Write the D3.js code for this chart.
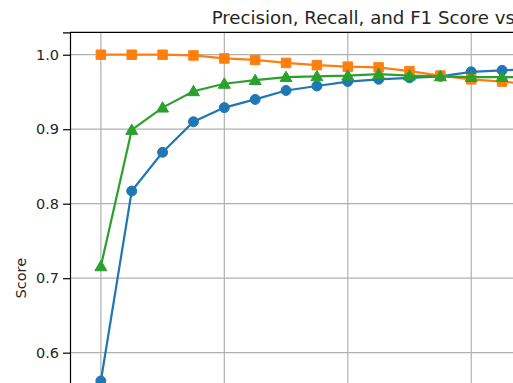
<!DOCTYPE html>
<html>
<head>
<meta charset="utf-8">
<script src="https://cdn.jsdelivr.net/npm/d3@7"></script>
<style>
  body { margin: 0; background: #fff; }
  text { font-family: "DejaVu Sans", sans-serif; fill: #262626; }
</style>
</head>
<body>
<svg id="chart"></svg>
<script>
// thresholds (only the visible part of the chart plus one point to the right edge)
const thresholds = [0.0, 0.05, 0.1, 0.15, 0.2, 0.25, 0.3, 0.35, 0.4, 0.45, 0.5, 0.55, 0.6, 0.65, 0.7];
const blueScores = [0.562, 0.817, 0.869, 0.910, 0.929, 0.940, 0.952, 0.958, 0.964, 0.967, 0.969, 0.971, 0.977, 0.979, 0.981];
const orangeScores = [1.000, 1.000, 1.000, 0.999, 0.995, 0.993, 0.989, 0.986, 0.984, 0.983, 0.978, 0.972, 0.967, 0.964, 0.960];
const greenScores = [0.716, 0.899, 0.929, 0.951, 0.961, 0.966, 0.970, 0.971, 0.972, 0.974, 0.972, 0.971, 0.970, 0.970, 0.970];
const xTicks = [0.0, 0.2, 0.4, 0.6, 0.8, 1.0];
const yTicks = [0.6, 0.7, 0.8, 0.9, 1.0];
const title = "Precision, Recall, and F1 Score vs Threshold";
const yLabel = "Score";

const width = 513, height = 383;
const plot = {left: 70, top: 32.3, right: 749, bottom: 524};

const svg = d3.select("#chart").attr("width", width).attr("height", height);

const x = d3.scaleLinear().domain([-0.05, 1.05]).range([plot.left, plot.right]);
const y = d3.scaleLinear().domain([0.37, 1.0301]).range([plot.bottom, plot.top]);

// grid
svg.append("g").selectAll("line").data(xTicks).enter().append("line")
    .attr("x1", d => x(d)).attr("x2", d => x(d))
    .attr("y1", plot.top).attr("y2", plot.bottom)
    .attr("stroke", "#b0b0b0").attr("stroke-width", 1.2);
svg.append("g").selectAll("line").data(yTicks).enter().append("line")
    .attr("x1", plot.left).attr("x2", plot.right)
    .attr("y1", d => y(d)).attr("y2", d => y(d))
    .attr("stroke", "#b0b0b0").attr("stroke-width", 1.2);

// y axis
const yAxis = d3.axisLeft(y).tickValues(yTicks).tickFormat(d3.format(".1f")).tickSizeOuter(0).tickSize(7).tickPadding(4);
const gy = svg.append("g").attr("transform", `translate(${plot.left},0)`).call(yAxis);
gy.select(".domain").attr("stroke", "#000").attr("stroke-width", 1.2);
gy.selectAll(".tick line").attr("stroke", "#000").attr("stroke-width", 1.2);
gy.selectAll(".tick text").attr("font-size", 14.5).attr("font-family", "DejaVu Sans").attr("fill", "#262626");

// top spine
svg.append("line")
    .attr("x1", plot.left).attr("x2", plot.right)
    .attr("y1", plot.top).attr("y2", plot.top)
    .attr("stroke", "#000").attr("stroke-width", 1.2);

const series = [
    {values: blueScores, color: "#1f77b4", marker: d3.symbolCircle},
    {values: orangeScores, color: "#ff7f0e", marker: d3.symbolSquare},
    {values: greenScores, color: "#2ca02c", marker: d3.symbolTriangle}
];

const line = d3.line().x((d, i) => x(thresholds[i])).y(d => y(d));

series.forEach(s => {
    svg.append("path")
        .datum(s.values)
        .attr("d", line)
        .attr("fill", "none")
        .attr("stroke", s.color)
        .attr("stroke-width", 2.2);

    let area = 78;
    if (s.marker === d3.symbolSquare) area = 90;
    if (s.marker === d3.symbolTriangle) area = 62;
    const sym = d3.symbol().type(s.marker).size(area);
    svg.append("g").selectAll("path")
        .data(s.values)
        .enter().append("path")
        .attr("d", sym)
        .attr("transform", (d, i) => `translate(${x(thresholds[i])},${y(d) + (s.marker === d3.symbolTriangle ? 1 : 0)})`)
        .attr("fill", s.color)
        .attr("stroke", s.color)
        .attr("stroke-width", 1);
});

// title (centred over the full axes, which run past the window edge)
svg.append("text")
    .attr("x", 411)
    .attr("y", 24)
    .attr("text-anchor", "middle")
    .attr("font-size", 18.2)
    .text(title);

// y label
svg.append("text")
    .attr("transform", `translate(21,${(plot.top + plot.bottom) / 2}) rotate(-90)`)
    .attr("text-anchor", "middle")
    .attr("dy", "0.35em")
    .attr("font-size", 14.5)
    .text(yLabel);
</script>
</body>
</html>
